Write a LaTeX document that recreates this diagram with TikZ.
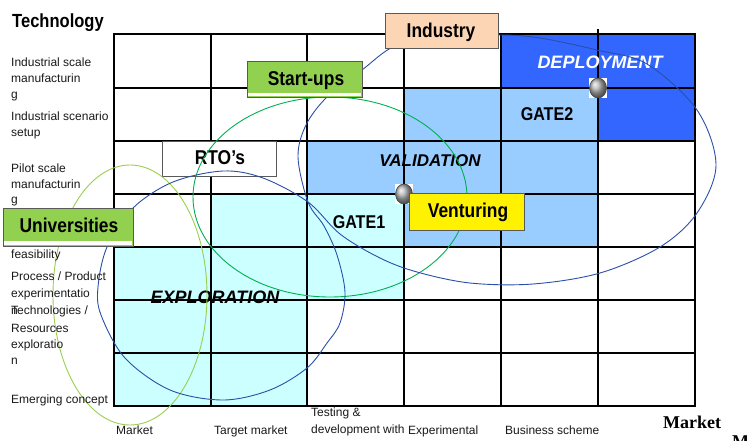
\documentclass[tikz,border=0pt]{standalone}
\usepackage{fontspec}
\setmainfont{Liberation Sans}
\newfontfamily\boxfont{Liberation Sans}[FakeStretch=0.87]
\newfontfamily\serifb{Liberation Serif}
\definecolor{cyanf}{HTML}{CCFFFF}
\definecolor{lbluef}{HTML}{99CCFF}
\definecolor{dbluef}{HTML}{3366FF}
\definecolor{greenbox}{HTML}{92D050}
\definecolor{peach}{HTML}{FCD5B4}
\definecolor{curveblue}{HTML}{2A4FA8}
\definecolor{ellgreen}{HTML}{00B050}
\definecolor{ellltgreen}{HTML}{9BCF4F}
\begin{document}
\begin{tikzpicture}[x=1pt,y=-1pt,
  sidelbl/.style={anchor=base west, inner sep=0pt, font=\fontsize{12}{14}\selectfont, text=black!90},
  boxlbl/.style={anchor=base, inner sep=0pt, font=\boxfont\bfseries\fontsize{20}{24}\selectfont},
  gatelbl/.style={anchor=base, inner sep=0pt, font=\boxfont\bfseries\fontsize{18.5}{22}\selectfont},
  phaselbl/.style={anchor=base, inner sep=0pt, font=\bfseries\itshape\fontsize{18}{22}\selectfont},
  tagbox/.style={draw=black!65, line width=0.9pt},
  gridline/.style={line width=1.6pt, black},
  ellline/.style={line width=0.9pt}]
\useasboundingbox (0,0) rectangle (747,440);
\clip (0,0) rectangle (747,440);
% fills
\fill[cyanf] (114,247) rectangle (307,406);
\fill[cyanf] (211,194) rectangle (307,247);
\fill[cyanf] (307,194) rectangle (404,300);
\fill[lbluef] (307,141) rectangle (404,194);
\fill[lbluef] (404,88) rectangle (598,247);
\fill[dbluef] (501,34) rectangle (598,88);
\fill[dbluef] (598,34) rectangle (695,141);
% grid
\foreach \x in {211,307,404,501,598} \draw[gridline] (\x,34) -- (\x,406);
\foreach \y in {88,141,194,247,300,353} \draw[gridline] (114,\y) -- (695,\y);
\draw[gridline, line width=2pt] (114,34) rectangle (695,406);
\draw[gridline] (598,29) -- (598,34);
% RTO box
\draw[tagbox, fill=white] (162,141) rectangle (276,176);
\node[boxlbl] (rto) at (220,164) {RTO’s};
% phase labels
\node[gatelbl] (gate1) at (359,228) {GATE1};
\node[gatelbl] (gate2) at (547,120) {GATE2};
\node[phaselbl, font=\bfseries\itshape\fontsize{17}{20}\selectfont] (valid) at (430,166) {VALIDATION};
\node[phaselbl, text=white] (deploy) at (600,68) {DEPLOYMENT};
\node[phaselbl] (explor) at (215,303) {EXPLORATION};
% ellipses
\draw[ellline, ellgreen] (330,197) ellipse [x radius=137pt, y radius=100pt];
\draw[ellline, ellltgreen] (130,295) ellipse [x radius=77pt, y radius=130pt];
\draw[ellline, curveblue] plot[smooth cycle, tension=0.55] coordinates {
 (133,208) (173,182) (223,171) (263,178) (308,202) (340,234) (380,258) (417,272)
 (470,283) (533,284) (600,273) (660,247) (697,213) (716,165) (697,110) (647,64)
 (597,50) (540,38) (498,35) (440,38) (395,46) (362,70) (327,97) (306,125)
 (298,157) (308,202) (324,226) (337,255) (345,292) (340,323) (327,343) (307,368)
 (270,390) (223,400) (170,390) (125,358) (101,315) (98,287) (107,247)};
% gates
\fill[white] (395,184) rectangle (413,204);
\shade[ball color=gray!60] (404,194) ellipse [x radius=8.5pt, y radius=10pt];
\draw[black!75, line width=0.6pt] (404,194) ellipse [x radius=8.5pt, y radius=10pt];
\fill[white] (589,78) rectangle (607,98);
\shade[ball color=gray!60] (598,88) ellipse [x radius=8.5pt, y radius=10pt];
\draw[black!75, line width=0.6pt] (598,88) ellipse [x radius=8.5pt, y radius=10pt];
% tag boxes
\draw[tagbox, fill=greenbox] (247,61) rectangle (362,97);
\fill[white] (248,93) rectangle (361,95.5);
\node[boxlbl] (startups) at (306,85) {Start-ups};
\draw[tagbox, fill=peach] (385,13) rectangle (498,48);
\node[boxlbl] (industry) at (441,37) {Industry};
\draw[tagbox, fill=greenbox] (3,208) rectangle (133,246);
\fill[white] (4,240.5) rectangle (132,244.5);
\node[boxlbl] (univ) at (69,232) {Universities};
\draw[tagbox, fill=yellow] (409,193) rectangle (524,230);
\node[boxlbl] (vent) at (468,217) {Venturing};
% axis titles
\node[anchor=base west, inner sep=0pt, font=\boxfont\bfseries\fontsize{19}{22}\selectfont] (tech) at (12,27) {Technology};
\node[anchor=base west, inner sep=0pt, font=\serifb\bfseries\fontsize{18}{20}\selectfont] (mk1) at (663,428) {Market};
\node[anchor=base west, inner sep=0pt, font=\serifb\bfseries\fontsize{18}{20}\selectfont] (mk2) at (732,447) {Maturity};
% left labels
\node[sidelbl] (l1) at (11,66) {Industrial scale};
\node[sidelbl] (l2) at (11,82) {manufacturin};
\node[sidelbl] (l3) at (11,98) {g};
\node[sidelbl] (l4) at (11,120) {Industrial scenario};
\node[sidelbl] (l5) at (11,136) {setup};
\node[sidelbl] (l6) at (11,172) {Pilot scale};
\node[sidelbl] (l7) at (11,188) {manufacturin};
\node[sidelbl] (l8) at (11,203) {g};
\node[sidelbl] (l9) at (11,258) {feasibility};
\node[sidelbl] (l10) at (11,280) {Process / Product};
\node[sidelbl] (l11) at (11,297) {experimentatio};
\node[sidelbl] (l12) at (11,314) {n};
\node[sidelbl] (l13) at (11,314) {Technologies /};
\node[sidelbl] (l14) at (11,332) {Resources};
\node[sidelbl] (l15) at (11,348) {exploratio};
\node[sidelbl] (l16) at (11,364) {n};
\node[sidelbl] (l17) at (11,403) {Emerging concept};
% bottom labels
\node[sidelbl] (b1) at (116,434) {Market};
\node[sidelbl] (b2) at (214,434) {Target market};
\node[sidelbl] (b3a) at (311,416) {Testing \&};
\node[sidelbl] (b3b) at (311,433) {development with};
\node[sidelbl] (b4) at (408,434) {Experimental};
\node[sidelbl] (b5) at (505,434) {Business scheme};
\end{tikzpicture}
\end{document}
